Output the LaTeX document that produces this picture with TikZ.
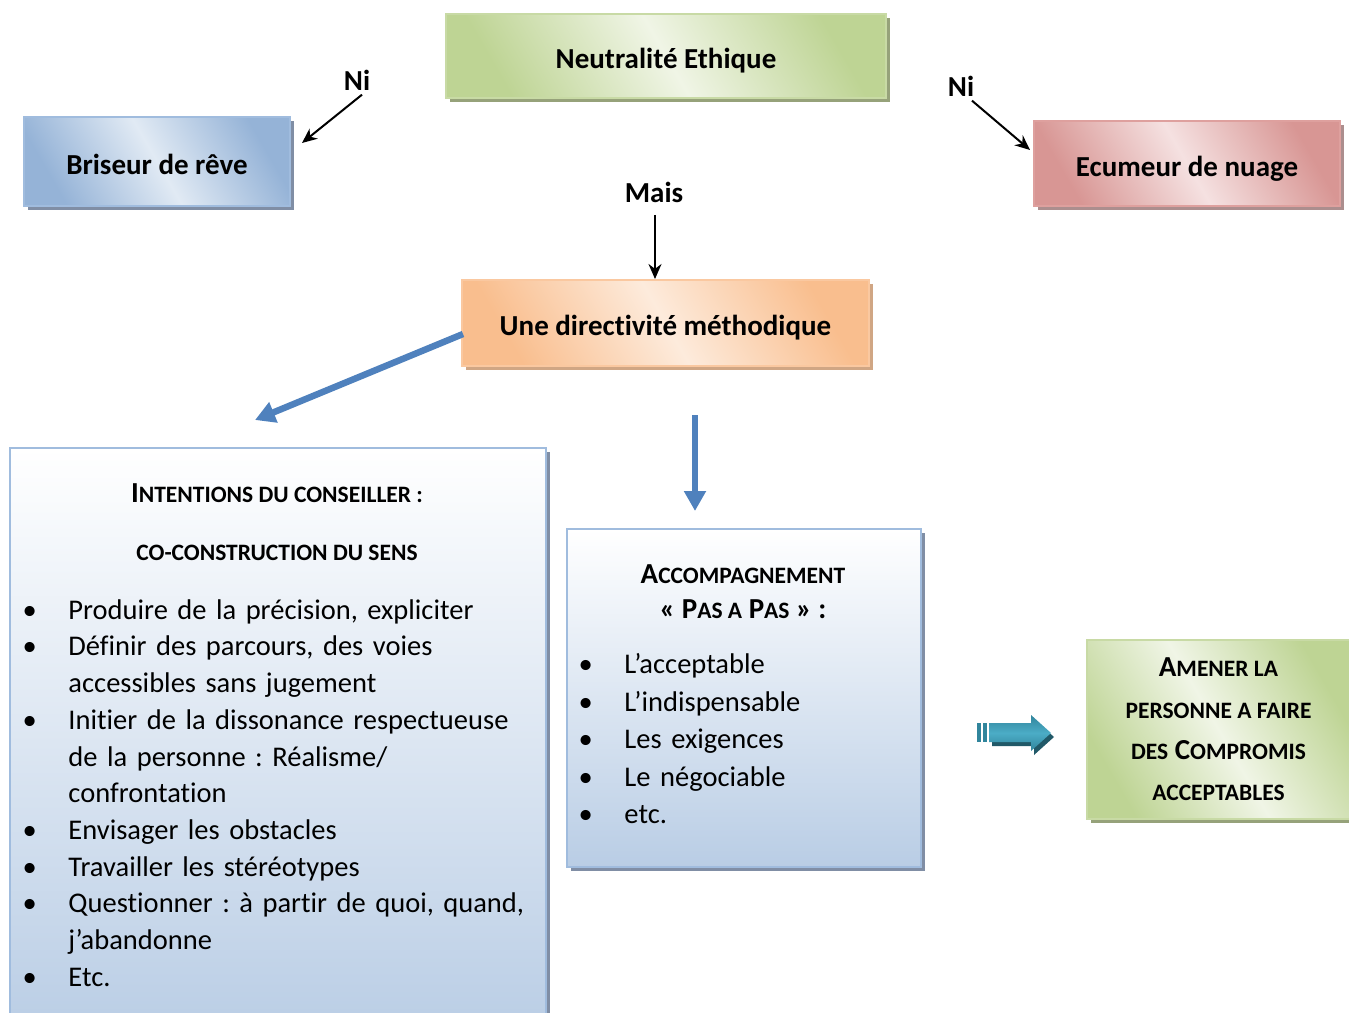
\documentclass[tikz,border=0pt]{standalone}
\usepackage{fontspec}
\setmainfont{Carlito}[Ligatures=NoCommon]
\usepackage{xcolor}
\usepackage{tikz}
\usetikzlibrary{calc,arrows.meta,shadows}
\frenchspacing
\definecolor{vertfonce}{RGB}{190,212,148}
\definecolor{vertclair}{RGB}{240,245,230}
\definecolor{vertbord}{RGB}{200,218,165}
\definecolor{vertombre}{RGB}{150,162,122}
\definecolor{bleufonce}{RGB}{149,179,215}
\definecolor{bleuclair}{RGB}{225,234,244}
\definecolor{bleubord}{RGB}{160,188,222}
\definecolor{bleuombre}{RGB}{128,142,165}
\definecolor{rougefonce}{RGB}{216,150,148}
\definecolor{rougeclair}{RGB}{245,225,225}
\definecolor{rougebord}{RGB}{222,160,158}
\definecolor{rougeombre}{RGB}{172,142,142}
\definecolor{orangefonce}{RGB}{249,190,142}
\definecolor{orangeclair}{RGB}{253,235,220}
\definecolor{orangebord}{RGB}{250,200,160}
\definecolor{orangeombre}{RGB}{208,166,132}
\definecolor{fondbleu}{RGB}{185,205,229}
\definecolor{flechebleu}{RGB}{79,129,189}
\definecolor{sarcelle}{RGB}{49,133,156}
\definecolor{sarcelleclair}{RGB}{75,172,198}
\definecolor{sarcellefonce}{RGB}{33,89,104}
\newcommand{\pc}[1]{{\fontsize{23.5}{28}\selectfont #1}}
\newcommand{\puce}{\makebox[46pt][l]{\textbullet}}
\newcommand{\suite}{\hspace*{46pt}}

\begin{document}
\begin{tikzpicture}[x=1pt, y=-1pt, >=Stealth, line width=1pt,
    boite/.style={draw=#1bord, line width=2pt, inner sep=0pt, anchor=north west,
      top color=#1fonce, bottom color=#1fonce, middle color=#1clair, shading angle=-60,
      font=\fontsize{29}{35}\selectfont\bfseries,
      general shadow={shadow xshift=4pt, shadow yshift=-4pt, fill=#1ombre}},
    uneligne/.style={text height=25pt, text depth=0pt},
    cadre/.style={draw=bleubord, line width=2pt, inner sep=0pt, anchor=north west,
      top color=white, bottom color=fondbleu,
      general shadow={shadow xshift=3.5pt, shadow yshift=-3.5pt, fill=bleuombre}},
    mot/.style={font=\fontsize{29}{35}\selectfont\bfseries, inner sep=0pt},
    titre/.style={font=\fontsize{29}{35}\selectfont\bfseries, inner sep=0pt, align=center},
    liste/.style={font=\fontsize{28.5}{36.7}\selectfont, inner sep=0pt, align=left,
      anchor=north west},
    fleche noire/.style={->, line width=2pt, -{Stealth[length=15pt,width=13pt]}},
    fleche bleue/.style={draw=flechebleu, line width=6.5pt,
      -{Triangle[length=20pt,width=21pt]}}]
  \useasboundingbox (0,0) rectangle (1349,1012);

  % boites du haut
  \node[boite=vert, uneligne, minimum width=440, minimum height=84] (neutre) at (445,13)
    {Neutralité Ethique};
  \node[boite=bleu, uneligne, minimum width=266, minimum height=89] (briseur) at (23,116)
    {Briseur de rêve};
  \node[boite=rouge, uneligne, minimum width=306, minimum height=85] (ecumeur) at (1033,120)
    {Ecumeur de nuage};
  \node[boite=orange, uneligne, minimum width=407, minimum height=86] (direct) at (461,279)
    {Une directivité méthodique};

  % liaisons Ni / Mais
  \node[mot] (nigauche) at (357,80) {Ni};
  \node[mot] (nidroite) at (961,86) {Ni};
  \node[mot] (mais) at (654,192) {Mais};
  \coordinate (briseurbout) at (302,143);
  \coordinate (ecumeurbout) at (1030,150);
  \draw[fleche noire] ($(nigauche.south)+(5,4)$) -- (briseurbout);
  \draw[fleche noire] ($(nidroite.south)+(11,4)$) -- (ecumeurbout);
  \draw[fleche noire] ($(mais.south)+(1,12)$) -- ($(mais.south |- direct.north)+(1,0)$);

  % fleches bleues
  \coordinate (gauchebout) at (255,420);
  \coordinate (basdebut) at (695,415);
  \coordinate (basbout) at (695,511);
  \draw[fleche bleue] ($(direct.west)+(2,11)$) -- (gauchebout);
  \draw[fleche bleue] (basdebut) -- (basbout);

  % cadre des intentions
  \node[cadre, minimum width=536, minimum height=590] (intentions) at (9,447) {};
  \node[titre, font=\fontsize{29}{58}\selectfont\bfseries, anchor=north] (titregauche)
    at (277,483) {I\pc{NTENTIONS DU CONSEILLER :}\\\pc{CO-CONSTRUCTION DU SENS}};
  \node[liste, text width=520] (listegauche) at (22,599) {%
    \puce Produire de la précision, expliciter\\
    \puce Définir des parcours, des voies\\
    \suite accessibles sans jugement\\
    \puce Initier de la dissonance respectueuse\\
    \suite de la personne : Réalisme/\\
    \suite confrontation\\
    \puce Envisager les obstacles\\
    \puce Travailler les stéréotypes\\
    \puce Questionner : à partir de quoi, quand,\\
    \suite j’abandonne\\
    \puce Etc.};

  % cadre de l'accompagnement
  \node[cadre, minimum width=354, minimum height=338] (accomp) at (566,528) {};
  \node[titre, anchor=north] (titremilieu) at (743,564)
    {A\pc{CCOMPAGNEMENT}\\« P\pc{AS A} P\pc{AS} » :};
  \node[liste, font=\fontsize{28.5}{37.5}\selectfont, text width=300] (listemilieu)
    at (578,653) {%
    \puce L’acceptable\\
    \puce L’indispensable\\
    \puce Les exigences\\
    \puce Le négociable\\
    \puce etc.};

  % fleche sarcelle
  \fill[sarcellefonce] (992,727) -- (1034,727) -- (1034,719) -- (1054,737)
    -- (1034,755) -- (1034,746) -- (992,746) -- cycle;
  \shade[top color=sarcelle, bottom color=sarcelle, middle color=sarcelleclair]
    (989,723) -- (1031,723) -- (1031,715) -- (1051,733) -- (1031,751)
    -- (1031,742) -- (989,742) -- cycle;
  \fill[sarcelle] (977,723) rectangle (981,742);
  \fill[sarcelle] (983,723) rectangle (987,742);

  % boite finale
  \node[boite=vert, minimum width=263, minimum height=179, align=center,
    font=\fontsize{29}{41.3}\selectfont\bfseries] (compromis) at (1086,639)
    {A\pc{MENER LA}\\\pc{PERSONNE A FAIRE}\\\pc{DES} C\pc{OMPROMIS}\\\pc{ACCEPTABLES}};
\end{tikzpicture}
\end{document}
